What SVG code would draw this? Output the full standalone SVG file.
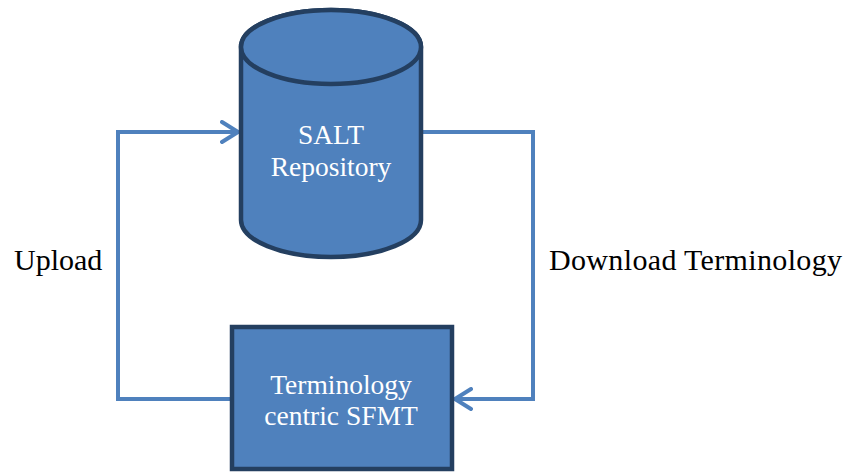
<svg xmlns="http://www.w3.org/2000/svg" width="846" height="472" viewBox="0 0 846 472">
<style>
.node{fill:#4f81bd;stroke:#243f60;stroke-width:4.5}
.ntext{font-family:"Liberation Serif","Times New Roman",serif;font-size:27.5px;fill:#ffffff;text-anchor:middle}
.lbl{font-family:"Liberation Serif","Times New Roman",serif;font-size:30px;fill:#000000}
.conn{fill:none;stroke:#4f81bd;stroke-width:4}
</style>
<defs>
<marker id="arr" viewBox="0 0 20 24" refX="18" refY="12" markerWidth="20" markerHeight="24" markerUnits="userSpaceOnUse" orient="auto">
<path d="M2,2 L18,12 L2,22" fill="none" stroke="#4f81bd" stroke-width="4" stroke-linecap="round" stroke-linejoin="round"/>
</marker>
</defs>
<rect width="846" height="472" fill="#ffffff"/>
<g id="connectors">
<path class="conn" d="M232,399 H118 V132 H238" marker-end="url(#arr)"/>
<path class="conn" d="M421,132 H533 V399 H455" marker-end="url(#arr)"/>
</g>
<g id="salt-repository">
<path class="node" d="M241,47 V220 A90,37 0 0 0 421,220 V47 A90,37 0 0 0 241,47 Z"/>
<ellipse class="node" cx="331" cy="47" rx="90" ry="37"/>
<text class="ntext" x="331" y="144">SALT</text>
<text class="ntext" x="331" y="176">Repository</text>
</g>
<g id="sfmt">
<rect class="node" x="232" y="327" width="220" height="142" stroke-width="5"/>
<text class="ntext" x="341" y="394">Terminology</text>
<text class="ntext" x="341" y="425">centric SFMT</text>
</g>
<g id="labels">
<text class="lbl" x="14" y="270">Upload</text>
<text class="lbl" x="549" y="270" textLength="293" lengthAdjust="spacing">Download Terminology</text>
</g>
</svg>
